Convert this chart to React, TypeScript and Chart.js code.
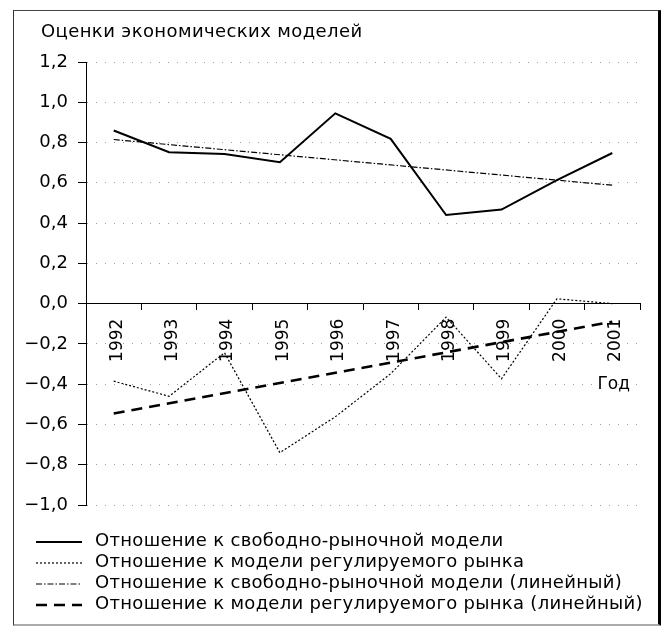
import React, { useEffect, useRef } from "react";
import { Chart, registerables } from "chart.js";

Chart.register(...registerables);

const years = ["1992", "1993", "1994", "1995", "1996", "1997", "1998", "1999", "2000", "2001"];
const freeMarket = [0.86, 0.752, 0.743, 0.702, 0.945, 0.818, 0.44, 0.467, 0.613, 0.748];
const regulated = [-0.385, -0.46, -0.244, -0.74, -0.562, -0.348, -0.067, -0.373, 0.024, 0.0];
const freeMarketTrend = [0.815, null, null, null, null, null, null, null, null, 0.588];
const regulatedTrend = [-0.546, null, null, null, null, null, null, null, null, -0.09];
const seriesLabels = [
  "Отношение к свободно-рыночной модели",
  "Отношение к модели регулируемого рынка",
  "Отношение к свободно-рыночной модели (линейный)",
  "Отношение к модели регулируемого рынка (линейный)",
];
const yMin = -1.0;
const yMax = 1.2;
const yStep = 0.2;
const titleText = "Оценки экономических моделей";
const xTitleText = "Год";

const FONT = "'DejaVu Sans', sans-serif";

const decorPlugin = {
  id: "decor",
  afterDraw(chart: any) {
    const { ctx, chartArea, scales } = chart;
    ctx.save();
    ctx.fillStyle = "#000";
    ctx.textBaseline = "middle";
    // title
    ctx.font = `18px ${FONT}`;
    (ctx as any).letterSpacing = "0.4px";
    ctx.textAlign = "left";
    ctx.fillText(titleText, chartArea.left - 45, chartArea.top - 30);
    // x axis title
    (ctx as any).letterSpacing = "0px";
    ctx.font = `17px ${FONT}`;
    ctx.textAlign = "right";
    ctx.fillText(xTitleText, chartArea.right - 10, scales.y.getPixelForValue(-0.4));
    // legend
    const rowH = 21;
    const y0 = chartArea.bottom + 36;
    const sx0 = chartArea.left - 50;
    const sx1 = chartArea.left - 4;
    ctx.font = `18px ${FONT}`;
    ctx.textAlign = "left";
    chart.data.datasets.forEach((ds: any, i: number) => {
      const y = y0 + i * rowH;
      ctx.save();
      ctx.strokeStyle = ds.borderColor;
      ctx.lineWidth = ds.borderWidth;
      ctx.setLineDash(ds.borderDash || []);
      ctx.beginPath();
      ctx.moveTo(sx0, y + 1);
      ctx.lineTo(sx1, y + 1);
      ctx.stroke();
      ctx.restore();
      (ctx as any).letterSpacing = "0.3px";
      ctx.fillText(ds.label, chartArea.left + 9, y);
    });
    (ctx as any).letterSpacing = "0px";
    ctx.restore();
  },
};

export default function App() {
  const canvasRef = useRef<HTMLCanvasElement | null>(null);

  useEffect(() => {
    if (!canvasRef.current) return;
    const chart = new Chart(canvasRef.current, {
      type: "line",
      data: {
        labels: years,
        datasets: [
          { label: seriesLabels[0], data: freeMarket, borderColor: "#000", borderWidth: 2, borderDash: [], pointRadius: 0, tension: 0 },
          { label: seriesLabels[1], data: regulated, borderColor: "#000", borderWidth: 1.2, borderDash: [2, 2], pointRadius: 0, tension: 0 },
          { label: seriesLabels[2], data: freeMarketTrend, borderColor: "#000", borderWidth: 1.2, borderDash: [6, 2, 1.5, 2], pointRadius: 0, spanGaps: true, tension: 0 },
          { label: seriesLabels[3], data: regulatedTrend, borderColor: "#000", borderWidth: 2.6, borderDash: [11, 7], pointRadius: 0, spanGaps: true, tension: 0 },
        ],
      },
      options: {
        animation: false,
        responsive: false,
        maintainAspectRatio: false,
        layout: { padding: { left: 0, right: 29, top: 54, bottom: 123 } },
        plugins: { legend: { display: false }, title: { display: false }, tooltip: { enabled: false } },
        scales: {
          x: {
            type: "category",
            position: { y: 0 } as any,
            offset: true,
            grid: { drawOnChartArea: false, drawTicks: true, tickLength: 6, tickColor: "#000", offset: true },
            border: { display: true, color: "#000", width: 1 },
            ticks: {
              autoSkip: false,
              minRotation: 90,
              maxRotation: 90,
              padding: 9,
              labelOffset: 3.5,
              color: "#000",
              font: { family: FONT, size: 17 },
            },
          },
          y: {
            min: yMin,
            max: yMax,
            afterFit(scale: any) { scale.width = 78; },
            grid: { color: "rgba(0,0,0,0.38)", lineWidth: 1, drawTicks: true, tickLength: 8, tickColor: "#000", tickBorderDash: [] } as any,
            border: { display: true, color: "#000", width: 1, dash: [1, 8] },
            ticks: {
              stepSize: yStep,
              padding: 10,
              color: "#000",
              font: { family: FONT, size: 18 },
              callback: (val: any) => {
                const n = Number(val);
                if (Math.abs(n) < 1e-9) return "0,0";
                const s = Math.abs(n).toFixed(1).replace(".", ",");
                return n < 0 ? "\u2212" + s : s;
              },
            },
          },
        },
      },
      plugins: [decorPlugin],
    });
    return () => chart.destroy();
  }, []);

  return (
    <div style={{ position: "relative", width: 661, height: 620 }}>
      <div style={{ position: "absolute", left: 5, top: 2, width: 649, height: 616, boxSizing: "border-box", borderTop: "1.5px solid #444", borderLeft: "1.5px solid #333", borderRight: "4px solid #000", borderBottom: "2px solid #aaa" }} />
      <canvas ref={canvasRef} width={661} height={620} style={{ position: "absolute", left: 0, top: 0, width: 661, height: 620 }} />
    </div>
  );
}
